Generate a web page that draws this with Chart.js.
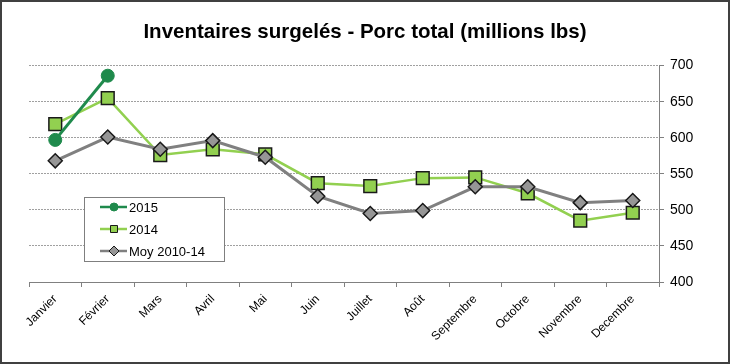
<!DOCTYPE html>
<html>
<head>
<meta charset="utf-8">
<script src="https://cdn.jsdelivr.net/npm/chart.js@4/dist/chart.umd.min.js"></script>
<style>
  html, body { margin: 0; padding: 0; background: #fff; }
  #wrap { position: relative; width: 730px; height: 364px; box-sizing: border-box; border: 2px solid #404040; }
  #wrap canvas { position: absolute; left: -2px; top: -2px; }
</style>
</head>
<body>
<div id="wrap"><canvas id="myChart" width="730" height="364"></canvas></div>
<script>
  const months = ['Janvier', 'Février', 'Mars', 'Avril', 'Mai', 'Juin', 'Juillet', 'Août', 'Septembre', 'Octobre', 'Novembre', 'Decembre'];
  const inv2015 = [597, 686, null, null, null, null, null, null, null, null, null, null];
  const inv2014 = [619, 655, 576, 584, 577, 537, 533, 544, 545, 523, 485, 496];
  const moy1014 = [568, 601, 584, 596, 573, 519, 495, 499, 532, 532, 510, 513];
  const yTicks = [400, 450, 500, 550, 600, 650, 700];

  const FONT = "'Liberation Sans', Arial, sans-serif";

  // legend drawn inside the plot, like the excel one
  const boxLegend = {
    id: 'boxLegend',
    afterDraw(chart) {
      const ctx = chart.ctx;
      ctx.save();
      ctx.fillStyle = '#fff';
      ctx.fillRect(84, 197, 140, 65);
      ctx.strokeStyle = '#7f7f7f';
      ctx.lineWidth = 1;
      ctx.strokeRect(84.5, 197.5, 140, 64);
      const rows = [207, 229, 251];
      chart.data.datasets.forEach((ds, i) => {
        const y = rows[i];
        ctx.strokeStyle = ds.borderColor;
        ctx.lineWidth = 2.5;
        ctx.beginPath();
        ctx.moveTo(100, y);
        ctx.lineTo(127, y);
        ctx.stroke();
        ctx.fillStyle = ds.pointBackgroundColor;
        ctx.strokeStyle = ds.pointBorderColor;
        ctx.lineWidth = 1;
        ctx.beginPath();
        if (ds.pointStyle === 'circle') {
          ctx.arc(114, y, 4, 0, Math.PI * 2);
        } else if (ds.pointStyle === 'rect') {
          ctx.rect(110.5, y - 3.5, 7, 7);
        } else {
          ctx.moveTo(114, y - 5); ctx.lineTo(119, y); ctx.lineTo(114, y + 5); ctx.lineTo(109, y); ctx.closePath();
        }
        ctx.fill();
        ctx.stroke();
        ctx.fillStyle = '#000';
        ctx.font = '13px ' + FONT;
        ctx.textBaseline = 'middle';
        ctx.fillText(ds.label, 129, y + 1);
      });
      ctx.restore();
    }
  };

  const data = {
    labels: months,
    datasets: [{
      label: '2015',
      data: inv2015,
      yAxisID: 'y',
      borderColor: '#1f8a4c',
      borderWidth: 3,
      pointStyle: 'circle',
      pointRadius: 6.5,
      pointBackgroundColor: '#1f8a4c',
      pointBorderColor: '#1f8a4c',
      pointBorderWidth: 1,
      order: 0
    }, {
      label: '2014',
      data: inv2014,
      yAxisID: 'y',
      borderColor: '#92d050',
      borderWidth: 2.5,
      pointStyle: 'rect',
      pointRadius: 9,
      pointBackgroundColor: '#92d050',
      pointBorderColor: '#1a1a1a',
      pointBorderWidth: 1.5,
      order: 2
    }, {
      label: 'Moy 2010-14',
      data: moy1014,
      yAxisID: 'y',
      borderColor: '#808080',
      borderWidth: 3,
      pointStyle: 'rectRot',
      pointRadius: 7,
      pointBackgroundColor: '#969696',
      pointBorderColor: '#1a1a1a',
      pointBorderWidth: 1.5,
      order: 1
    }]
  };

  const config = {
    type: 'line',
    data,
    options: {
      responsive: false,
      animation: false,
      layout: { padding: 0 },
      plugins: {
        legend: { display: false },
        tooltip: { enabled: false },
        title: {
          display: true,
          text: 'Inventaires surgelés - Porc total (millions lbs)',
          color: '#000',
          font: { family: FONT, size: 20.5, weight: 'bold' },
          padding: { top: 20, bottom: 21 }
        }
      },
      elements: { line: { tension: 0 } },
      scales: {
        x: {
          offset: true,
          grid: { offset: true, drawOnChartArea: false, drawTicks: true, tickLength: 5, tickColor: '#808080' },
          border: { display: true, color: '#808080', width: 1 },
          ticks: {
            color: '#000',
            font: { family: FONT, size: 12 },
            minRotation: 45,
            maxRotation: 45,
            padding: 5,
            autoSkip: false
          },
          afterFit(scale) { scale.height = 82; }
        },
        y: {
          position: 'right',
          min: 400,
          max: 700,
          afterBuildTicks(scale) { scale.ticks = yTicks.map(v => ({ value: v })); },
          grid: { color: '#a0a0a0', drawTicks: true, tickLength: 5, tickColor: '#808080', tickBorderDash: [] },
          border: { display: true, color: '#808080', width: 1, dash: [2, 1] },
          ticks: {
            color: '#000',
            font: { family: FONT, size: 14 },
            padding: 6
          },
          afterFit(scale) { scale.width = 71; }
        },
        // empty left axis, only keeps the 29px left margin
        yLeft: {
          position: 'left',
          display: true,
          grid: { display: false },
          border: { display: false },
          ticks: { display: false },
          afterFit(scale) { scale.width = 29; }
        }
      }
    },
    plugins: [boxLegend]
  };

  const myChart = new Chart(
    document.getElementById('myChart'),
    config
  );
</script>
</body>
</html>
